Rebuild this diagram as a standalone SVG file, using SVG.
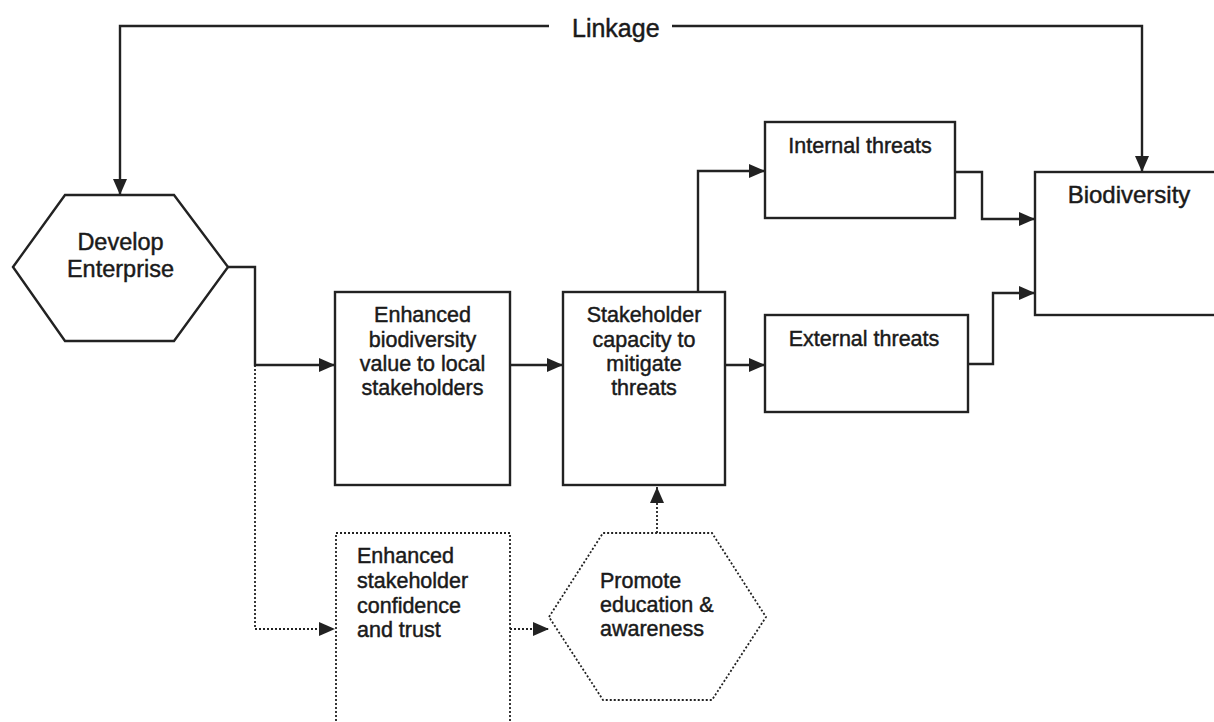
<svg xmlns="http://www.w3.org/2000/svg" width="1214" height="722" viewBox="0 0 1214 722">
  <style>
    .box { fill: #ffffff; stroke: #222222; stroke-width: 2.4; }
    .dotbox { fill: #ffffff; stroke: #222222; stroke-width: 1.8; stroke-dasharray: 2 2; }
    .lbl { font-family: "Liberation Sans", Arial, sans-serif; font-size: 21.5px; fill: #1a1a1a; stroke: #1a1a1a; stroke-width: 0.45; }
    .mid { text-anchor: middle; }
    .wire { fill: none; stroke: #222222; stroke-width: 2.4; }
    .dotwire { fill: none; stroke: #222222; stroke-width: 1.8; stroke-dasharray: 2 2; }
  </style>
  <defs>
    <marker id="arrow" markerUnits="userSpaceOnUse" markerWidth="17" markerHeight="15" refX="16" refY="7" orient="auto">
      <path d="M0,0 L16,7 L0,14 Z" fill="#222222"/>
    </marker>
  </defs>

  <rect width="1214" height="722" fill="#ffffff"/>

  <!-- connectors -->
  <g id="connectors">
    <!-- Linkage -->
    <polyline class="wire" points="549,26 120,26 120,195" marker-end="url(#arrow)"/>
    <polyline class="wire" points="672,26 1142,26 1142,172" marker-end="url(#arrow)"/>
    <text class="lbl" x="572" y="37" style="font-size:25px">Linkage</text>
    <!-- Develop Enterprise outputs -->
    <polyline class="wire" points="228,267 255,267 255,365 335,365" marker-end="url(#arrow)"/>
    <polyline class="dotwire" points="255,365 255,629 335,629" marker-end="url(#arrow)"/>
    <!-- main chain -->
    <line class="wire" x1="510" y1="365" x2="563" y2="365" marker-end="url(#arrow)"/>
    <line class="wire" x1="725" y1="365" x2="765" y2="365" marker-end="url(#arrow)"/>
    <polyline class="wire" points="698,292 698,171 765,171" marker-end="url(#arrow)"/>
    <polyline class="wire" points="955,172 982,172 982,219 1035,219" marker-end="url(#arrow)"/>
    <polyline class="wire" points="968,364 993,364 993,293 1035,293" marker-end="url(#arrow)"/>
    <!-- dotted branch -->
    <line class="dotwire" x1="510" y1="629" x2="549" y2="629" marker-end="url(#arrow)"/>
    <line class="dotwire" x1="657" y1="533" x2="657" y2="487" marker-end="url(#arrow)"/>
  </g>

  <g id="develop-enterprise">
    <polygon class="box" points="13,267 65,195 174,195 228,267 174,341 65,341"/>
    <text class="lbl mid" x="120.5" y="250" style="font-size:23.5px">Develop</text>
    <text class="lbl mid" x="120.5" y="277" style="font-size:23.5px">Enterprise</text>
  </g>

  <g id="enhanced-biodiversity-value">
    <rect class="box" x="335" y="292" width="175" height="193"/>
    <text class="lbl mid" x="422.5" y="322">Enhanced</text>
    <text class="lbl mid" x="422.5" y="347">biodiversity</text>
    <text class="lbl mid" x="422.5" y="371">value to local</text>
    <text class="lbl mid" x="422.5" y="395">stakeholders</text>
  </g>

  <g id="stakeholder-capacity">
    <rect class="box" x="563" y="292" width="162" height="193"/>
    <text class="lbl mid" x="644" y="322">Stakeholder</text>
    <text class="lbl mid" x="644" y="347">capacity to</text>
    <text class="lbl mid" x="644" y="371">mitigate</text>
    <text class="lbl mid" x="644" y="395">threats</text>
  </g>

  <g id="internal-threats">
    <rect class="box" x="765" y="122" width="190" height="96"/>
    <text class="lbl mid" x="860" y="153">Internal threats</text>
  </g>

  <g id="external-threats">
    <rect class="box" x="765" y="315" width="203" height="97"/>
    <text class="lbl mid" x="864" y="346">External threats</text>
  </g>

  <g id="biodiversity">
    <rect class="box" x="1035" y="172" width="190" height="143"/>
    <text class="lbl mid" x="1129" y="203" style="font-size:24px">Biodiversity</text>
  </g>

  <g id="stakeholder-confidence">
    <rect class="dotbox" x="336" y="533" width="174" height="200"/>
    <text class="lbl" x="357" y="563">Enhanced</text>
    <text class="lbl" x="357" y="588">stakeholder</text>
    <text class="lbl" x="357" y="613">confidence</text>
    <text class="lbl" x="357" y="637">and trust</text>
  </g>

  <g id="promote-education">
    <polygon class="dotbox" points="549,617 603,533 712,533 766,617 712,700 603,700"/>
    <text class="lbl" x="600" y="588">Promote</text>
    <text class="lbl" x="600" y="612">education &amp;</text>
    <text class="lbl" x="600" y="636">awareness</text>
  </g>
</svg>
